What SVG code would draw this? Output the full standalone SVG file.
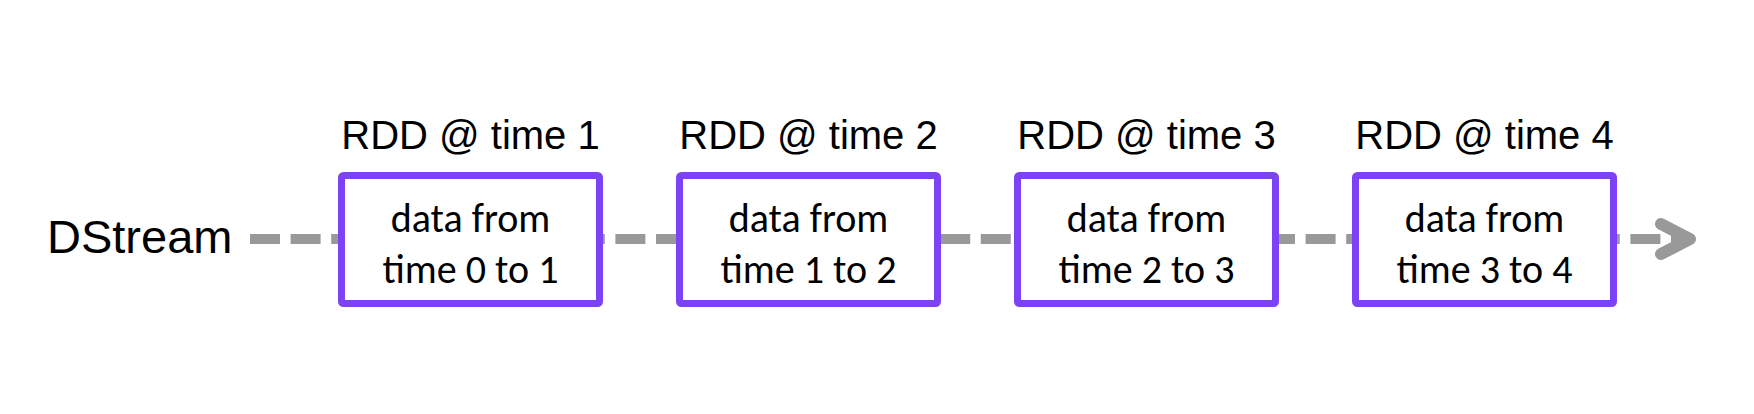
<svg xmlns="http://www.w3.org/2000/svg" width="1754" height="414" viewBox="0 0 1754 414">
  <style>
    .box { fill: #ffffff; stroke: #7B42F6; stroke-width: 7; }
    .title { font-family: "Liberation Sans", Arial, sans-serif; font-size: 40px; fill: #000; text-anchor: middle; }
    .body { font-family: Carlito, Lato, "Open Sans", sans-serif; font-size: 40px; fill: #000; text-anchor: middle; }
    .label { font-family: "Liberation Sans", Arial, sans-serif; font-size: 47px; fill: #000; }
    .stream { stroke: #999999; stroke-width: 10; fill: none; stroke-dasharray: 30 10.6; }
    .head { stroke: #999999; stroke-width: 12; fill: none; stroke-linecap: round; stroke-linejoin: round; }
  </style>
  <rect width="1754" height="414" fill="#ffffff"/>
  <g id="dstream-label">
    <text class="label" x="47" y="253">DStream</text>
  </g>
  <g id="connectors">
    <line class="stream" x1="250" y1="239" x2="1688" y2="239"/>
    <path class="head" d="M1661,224 L1690,239 L1661,254"/>
  </g>
  <g id="rdd1">
    <text class="title" x="470.5" y="149">RDD @ time 1</text>
    <rect class="box" x="341.5" y="175.5" width="258" height="128" rx="2"/>
    <text class="body" x="470.5" y="232">data from</text>
    <text class="body" x="470.5" y="283">time 0 to 1</text>
  </g>
  <g id="rdd2">
    <text class="title" x="808.5" y="149">RDD @ time 2</text>
    <rect class="box" x="679.5" y="175.5" width="258" height="128" rx="2"/>
    <text class="body" x="808.5" y="232">data from</text>
    <text class="body" x="808.5" y="283">time 1 to 2</text>
  </g>
  <g id="rdd3">
    <text class="title" x="1146.5" y="149">RDD @ time 3</text>
    <rect class="box" x="1017.5" y="175.5" width="258" height="128" rx="2"/>
    <text class="body" x="1146.5" y="232">data from</text>
    <text class="body" x="1146.5" y="283">time 2 to 3</text>
  </g>
  <g id="rdd4">
    <text class="title" x="1484.5" y="149">RDD @ time 4</text>
    <rect class="box" x="1355.5" y="175.5" width="258" height="128" rx="2"/>
    <text class="body" x="1484.5" y="232">data from</text>
    <text class="body" x="1484.5" y="283">time 3 to 4</text>
  </g>
</svg>
